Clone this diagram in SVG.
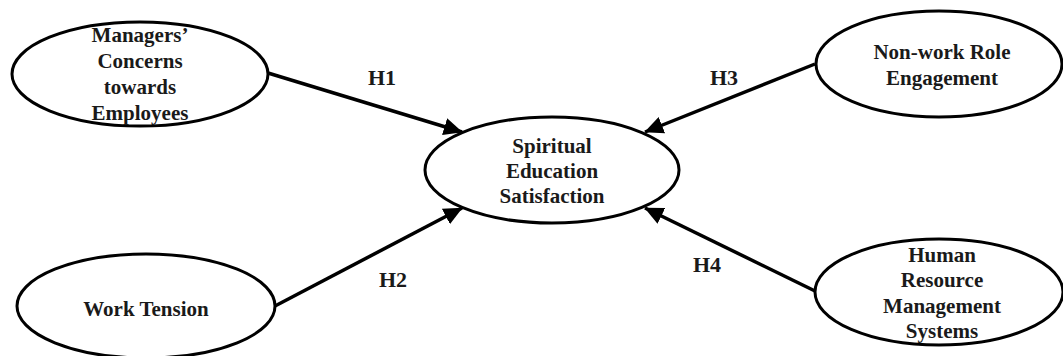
<svg xmlns="http://www.w3.org/2000/svg" width="1063" height="356" viewBox="0 0 1063 356">
<style>
.node ellipse{fill:#fff;stroke:#000;stroke-width:3}
.node text,.lbl{font-family:"Liberation Serif","Times New Roman",serif;font-weight:bold;font-size:21px;fill:#1a1a1a;text-anchor:middle}
.lbl{font-size:22px}
.edge{stroke:#000;stroke-width:3.5;fill:none;marker-end:url(#ah)}
</style>
<defs>
<marker id="ah" markerWidth="6" markerHeight="5" refX="5.2" refY="2.5" orient="auto" markerUnits="strokeWidth">
<path d="M0,0 L5.4,2.5 L0,5 Z" fill="#000"/>
</marker>
</defs>
<rect width="1063" height="356" fill="#fff"/>
<g id="connectors">
<line class="edge" x1="268" y1="73" x2="462" y2="132"/>
<line class="edge" x1="275" y1="306" x2="462" y2="208"/>
<line class="edge" x1="815" y1="64" x2="645" y2="132"/>
<line class="edge" x1="815" y1="291" x2="645" y2="208"/>
<text class="lbl" x="382" y="85">H1</text>
<text class="lbl" x="393" y="287">H2</text>
<text class="lbl" x="724" y="85">H3</text>
<text class="lbl" x="707" y="272">H4</text>
</g>
<g id="managers" class="node">
<ellipse cx="140" cy="74" rx="128" ry="52"/>
<text x="140" y="42">Managers’</text>
<text x="140" y="68">Concerns</text>
<text x="140" y="94">towards</text>
<text x="140" y="120">Employees</text>
</g>
<g id="nonwork" class="node">
<ellipse cx="939" cy="64" rx="123" ry="53"/>
<text x="942" y="59">Non-work Role</text>
<text x="942" y="85">Engagement</text>
</g>
<g id="spiritual" class="node">
<ellipse cx="552" cy="170" rx="127" ry="53"/>
<text x="552" y="153">Spiritual</text>
<text x="552" y="178">Education</text>
<text x="552" y="203">Satisfaction</text>
</g>
<g id="worktension" class="node">
<ellipse cx="146" cy="306" rx="129" ry="52"/>
<text x="146" y="316">Work Tension</text>
</g>
<g id="hrm" class="node">
<ellipse cx="939" cy="292" rx="124" ry="53"/>
<text x="942" y="262">Human</text>
<text x="942" y="287">Resource</text>
<text x="942" y="313">Management</text>
<text x="942" y="338">Systems</text>
</g>
</svg>
